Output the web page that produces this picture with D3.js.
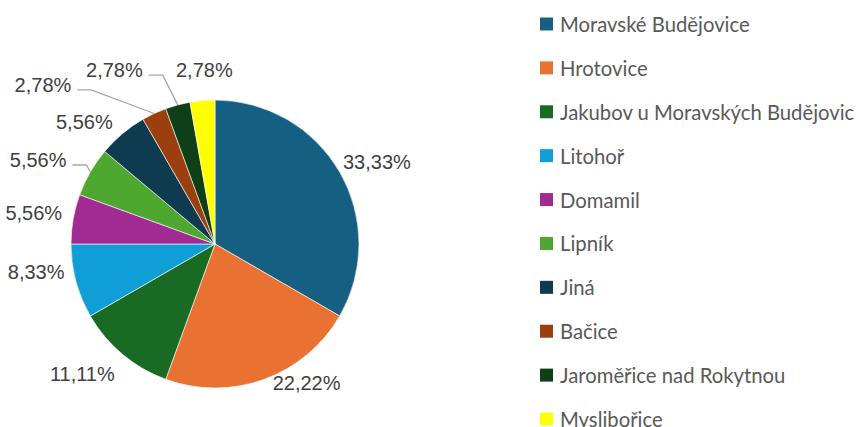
<!DOCTYPE html>
<html>
<head>
<meta charset="utf-8">
<script src="https://cdn.jsdelivr.net/npm/d3@7"></script>
<style>
body { margin: 0; background: #fff; }
text.lbl { font-family: "Liberation Sans", Arial, sans-serif; font-size: 20px; fill: #404040; }
text.leg { font-family: Lato, "Open Sans", sans-serif; font-size: 20.3px; fill: #595959; }
</style>
</head>
<body>
<svg width="860" height="427"></svg>
<script>
// data
const obce = ["Moravské Budějovice", "Hrotovice", "Jakubov u Moravských Budějovic", "Litohoř", "Domamil",
  "Lipník", "Jiná", "Bačice", "Jaroměřice nad Rokytnou", "Myslibořice"]
const pocty = [12, 8, 4, 3, 2, 2, 2, 1, 1, 1]
const barvy = ["#156082", "#E97132", "#196B24", "#0F9ED5", "#A02B93",
  "#4EA72E", "#0E3B4F", "#9C3F0E", "#0F3F17", "#FFFF00"]

// label nudges (layout only), [dx, dy, leader line?]
const nudge = [[6, 8, 0], [30, -30, 0], [-17, -8, 0], [-5, -19, 0], [-4, 0, 0],
  [-21, 6, 1], [-15, 16, 0], [-96, 4, 1], [-54, 0, 1], [5, 5, 0]]

const svg = d3.select("svg")
const cx = 215, cy = 244, r = 144

const total = d3.sum(pocty)
const pie = d3.pie().sort(null).value(d => d)
const arcs = pie(pocty)

const arc = d3.arc().innerRadius(0).outerRadius(r)
const edge = d3.arc().innerRadius(r).outerRadius(r)
const outer = d3.arc().innerRadius(180).outerRadius(180)

const g = svg.append("g").attr("transform", `translate(${cx},${cy})`)

g.selectAll("path.slice")
  .data(arcs)
  .enter()
  .append("path")
  .attr("class", "slice")
  .attr("d", arc)
  .attr("fill", (d, i) => barvy[i])
  .attr("stroke", "#fff")
  .attr("stroke-width", 0.6)

const fmt = v => (v / total * 100).toFixed(2).replace(".", ",") + "%"

arcs.forEach((d, i) => {
  const c = outer.centroid(d)
  const x = c[0] + nudge[i][0], y = c[1] + nudge[i][1]
  const t = g.append("text")
    .attr("class", "lbl")
    .attr("x", x)
    .attr("y", y)
    .attr("text-anchor", "middle")
    .attr("dominant-baseline", "central")
    .text(fmt(d.value))
  if (nudge[i][2]) {
    const w = t.node().getComputedTextLength()
    const right = x + w / 2
    const e = edge.centroid(d)
    g.append("polyline")
      .attr("points", [[right + 6, y + 5], [right + 20, y + 5], e].map(p => p.join(",")).join(" "))
      .attr("fill", "none")
      .attr("stroke", "#A6A6A6")
      .attr("stroke-width", 1.3)
  }
})

// legend
const legY = d3.scalePoint().domain(obce).range([24, 419])
const leg = svg.selectAll("g.leg")
  .data(obce)
  .enter()
  .append("g")
  .attr("transform", d => `translate(540,${legY(d)})`)

leg.append("rect")
  .attr("x", 0)
  .attr("y", -6.5)
  .attr("width", 13)
  .attr("height", 13)
  .attr("fill", (d, i) => barvy[i])

leg.append("text")
  .attr("class", "leg")
  .attr("x", 20)
  .attr("y", 0)
  .attr("dominant-baseline", "central")
  .text(d => d)
</script>
</body>
</html>
